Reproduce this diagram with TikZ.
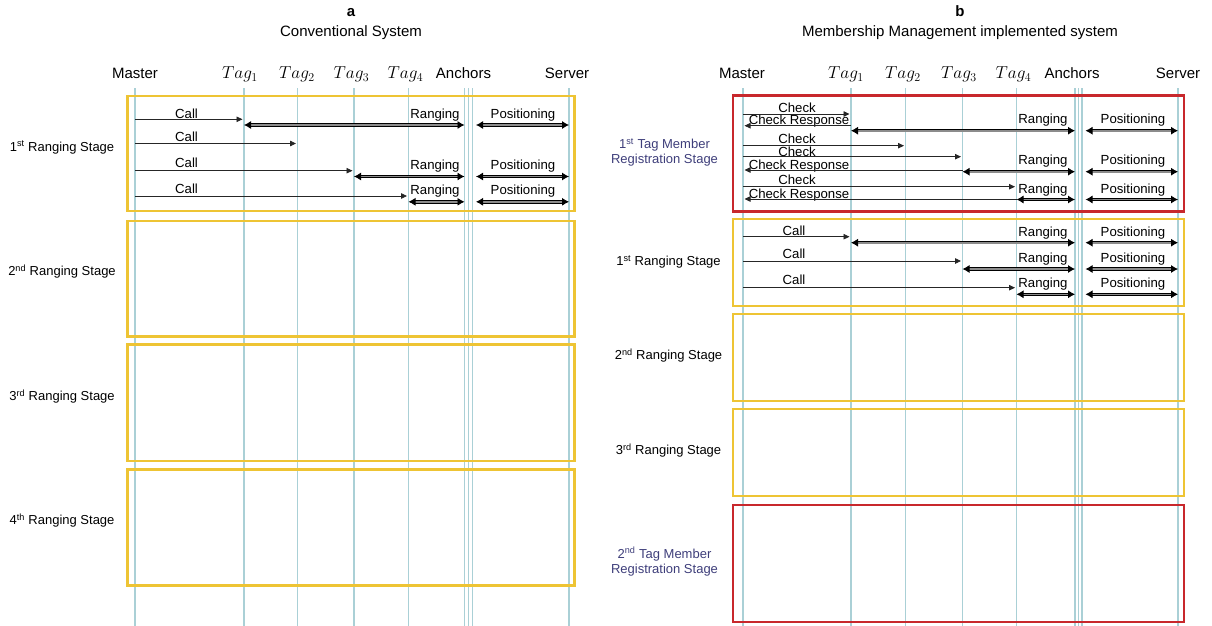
\documentclass[tikz,border=0pt]{standalone}
\usepackage{fontspec}
\setmainfont{Liberation Sans}
\usetikzlibrary{arrows.meta}
\definecolor{yboxc}{RGB}{238,196,52}
\definecolor{rboxc}{RGB}{200,40,44}
\definecolor{lifec}{RGB}{170,208,214}
\definecolor{stgblue}{RGB}{62,62,122}
\begin{document}
\begin{tikzpicture}[x=1pt,y=-1pt,
  life/.style={draw=lifec, line width=1.1pt},
  yb/.style={draw=yboxc, line width=2.6pt},
  rb/.style={draw=rboxc, line width=2.2pt},
  hdr/.style={font=\fontsize{15}{18}\selectfont, anchor=base, inner sep=0pt},
  tag/.style={font=\fontsize{16.5}{18}\selectfont, anchor=base, inner sep=0pt},
  ttl/.style={font=\fontsize{15}{18}\selectfont, anchor=base, inner sep=0pt},
  lbl/.style={font=\fontsize{13.2}{15}\selectfont, anchor=base, inner sep=0pt},
  stg/.style={font=\fontsize{13}{15}\selectfont, anchor=base, inner sep=0pt, align=center},
  msg/.style={draw=black!85, line width=0.8pt, -{Triangle[length=6pt,width=5.5pt]}, shorten >=1.5pt},
  dbl/.style={draw=black, line width=0.9pt, double=black!45, double distance=1.6pt,
    {Latex[length=7pt,width=8pt]}-{Latex[length=7pt,width=8pt]}},
]
\useasboundingbox (0,0) rectangle (1212,626);

% ---------------- titles ----------------
\node[ttl, font=\fontsize{15}{18}\selectfont\bfseries] (tA) at (351,17) {a};
\node[ttl] (tA2) at (351,36.5) {Conventional System};
\node[ttl, font=\fontsize{15}{18}\selectfont\bfseries] (tB) at (960,17) {b};
\node[ttl] (tB2) at (960,36.5) {Membership Management implemented system};

% ---------------- headers ----------------
\node[hdr] (hMA) at (135,78.5) {Master};
\node[tag] (hT1A) at (240,78.5) {$Tag_1$};
\node[tag] (hT2A) at (297,78.5) {$Tag_2$};
\node[tag] (hT3A) at (351.5,78.5) {$Tag_3$};
\node[tag] (hT4A) at (405.5,78.5) {$Tag_4$};
\node[hdr] (hAnA) at (463.5,78.5) {Anchors};
\node[hdr] (hSA) at (567,78.5) {Server};

\node[hdr] (hMB) at (742,78.5) {Master};
\node[tag] (hT1B) at (846,78.5) {$Tag_1$};
\node[tag] (hT2B) at (903,78.5) {$Tag_2$};
\node[tag] (hT3B) at (959,78.5) {$Tag_3$};
\node[tag] (hT4B) at (1013.5,78.5) {$Tag_4$};
\node[hdr] (hAnB) at (1072,78.5) {Anchors};
\node[hdr] (hSB) at (1178,78.5) {Server};

% ---------------- lifelines ----------------
\foreach \n/\x in {mA/135, t1A/244, t2A/297.5, t3A/354, t4A/408.5, anA/464.5, anAb/468.2, anAc/472.5, sA/569,
                   mB/743, t1B/851, t2B/905.5, t3B/962.5, t4B/1016.5, anB/1075, anBb/1078.5, anBc/1082, sB/1178}{
  \coordinate (\n) at (\x,88);
  \coordinate (\n e) at (\x,626);
  \draw[life] (\n) -- (\n e);
}

% ---------------- stage boxes ----------------
\draw[yb] (127.5,96) rectangle (574.5,211);
\draw[yb] (127.5,221) rectangle (574.5,336.5);
\draw[yb] (127.5,344.5) rectangle (574.5,461);
\draw[yb] (127.5,469.5) rectangle (574.5,585.5);

\draw[rb] (733,95.5) rectangle (1184,211.5);
\draw[yb] (733,219) rectangle (1184,306);
\draw[yb] (733,314) rectangle (1184,401);
\draw[yb] (733,409) rectangle (1184,496);
\draw[rb] (733,505) rectangle (1184,622);

% ---------------- stage labels ----------------
\node[stg] (sA1) at (62,151) {1\textsuperscript{st} Ranging Stage};
\node[stg] (sA2) at (62,275.5) {2\textsuperscript{nd} Ranging Stage};
\node[stg] (sA3) at (62,400.5) {3\textsuperscript{rd} Ranging Stage};
\node[stg] (sA4) at (62,524.5) {4\textsuperscript{th} Ranging Stage};

\node[stg, text=stgblue] (sB1) at (664.5,163.5) {1\textsuperscript{st} Tag Member\\Registration Stage};
\node[stg] (sB2) at (668.5,265.5) {1\textsuperscript{st} Ranging Stage};
\node[stg] (sB3) at (668.5,359.5) {2\textsuperscript{nd} Ranging Stage};
\node[stg] (sB4) at (668.5,454.5) {3\textsuperscript{rd} Ranging Stage};
\node[stg, text=stgblue] (sB5) at (664.5,573) {2\textsuperscript{nd} Tag Member\\Registration Stage};

% ================= panel a messages =================
\coordinate (ra1) at (0,119.3);  \coordinate (da1) at (0,125);
\coordinate (ra2) at (0,143.5);
\coordinate (ra3) at (0,170.7);  \coordinate (da3) at (0,176.5);
\coordinate (ra4) at (0,196);    \coordinate (da4) at (0,201.8);

\node[lbl] (ca1) at (186.5,118) {Call};
\node[lbl] (ca2) at (186.5,141.5) {Call};
\node[lbl] (ca3) at (186.5,167.5) {Call};
\node[lbl] (ca4) at (186.5,193.5) {Call};
\draw[msg] (mA |- ra1) -- (t1A |- ra1);
\draw[msg] (mA |- ra2) -- (t2A |- ra2);
\draw[msg] (mA |- ra3) -- (t3A |- ra3);
\draw[msg] (mA |- ra4) -- (t4A |- ra4);

\node[lbl] (rga1) at (435,118.5) {Ranging};
\node[lbl] (rga3) at (435,169.5) {Ranging};
\node[lbl] (rga4) at (435,194.5) {Ranging};
\node[lbl] (pa1) at (523,118.5) {Positioning};
\node[lbl] (pa3) at (523,169.5) {Positioning};
\node[lbl] (pa4) at (523,194.5) {Positioning};

\draw[dbl] (t1A |- da1) -- (anA |- da1);
\draw[dbl] (t3A |- da3) -- (anA |- da3);
\draw[dbl] (t4A |- da4) -- (anA |- da4);
\draw[dbl, shorten <=3.5pt] (anAc |- da1) -- (sA |- da1);
\draw[dbl, shorten <=3.5pt] (anAc |- da3) -- (sA |- da3);
\draw[dbl, shorten <=3.5pt] (anAc |- da4) -- (sA |- da4);

% ================= panel b: registration stage =================
\coordinate (rb1) at (0,114);   \coordinate (rr1) at (0,125.7); \coordinate (db1) at (0,130.7);
\coordinate (rb2) at (0,145.7);
\coordinate (rb3) at (0,156.7); \coordinate (rr3) at (0,170);   \coordinate (db3) at (0,171.7);
\coordinate (rb4) at (0,186.7); \coordinate (rr4) at (0,199);   \coordinate (db4) at (0,199.5);

\node[lbl] (ck1) at (797,112) {Check};
\node[lbl] (cr1) at (799,124.5) {Check Response};
\node[lbl] (ck2) at (797,143) {Check};
\node[lbl] (ck3) at (797,156) {Check};
\node[lbl] (cr3) at (799,169.3) {Check Response};
\node[lbl] (ck4) at (797,184.5) {Check};
\node[lbl] (cr4) at (799,198.5) {Check Response};

\draw[msg] (mB |- rb1) -- (t1B |- rb1);
\draw[msg] (t1B |- rr1) -- (mB |- rr1);
\draw[msg] (mB |- rb2) -- (t2B |- rb2);
\draw[msg] (mB |- rb3) -- (t3B |- rb3);
\draw[msg] (t3B |- rr3) -- (mB |- rr3);
\draw[msg] (mB |- rb4) -- (t4B |- rb4);
\draw[msg] (t4B |- rr4) -- (mB |- rr4);

\node[lbl] (rgb1) at (1043,123) {Ranging};
\node[lbl] (rgb3) at (1043,164.5) {Ranging};
\node[lbl] (rgb4) at (1043,193.5) {Ranging};
\node[lbl] (pb1) at (1133,123) {Positioning};
\node[lbl] (pb3) at (1133,164.5) {Positioning};
\node[lbl] (pb4) at (1133,193.5) {Positioning};

\draw[dbl] (t1B |- db1) -- (anB |- db1);
\draw[dbl] (t3B |- db3) -- (anB |- db3);
\draw[dbl] (t4B |- db4) -- (anB |- db4);
\draw[dbl, shorten <=3.5pt] (anBc |- db1) -- (sB |- db1);
\draw[dbl, shorten <=3.5pt] (anBc |- db3) -- (sB |- db3);
\draw[dbl, shorten <=3.5pt] (anBc |- db4) -- (sB |- db4);

% ================= panel b: 1st ranging stage =================
\coordinate (rc1) at (0,236.7); \coordinate (dc1) at (0,242.7);
\coordinate (rc2) at (0,261);   \coordinate (dc2) at (0,269);
\coordinate (rc3) at (0,287.7); \coordinate (dc3) at (0,294.3);

\node[lbl] (cb1) at (794,235.3) {Call};
\node[lbl] (cb2) at (794,258.6) {Call};
\node[lbl] (cb3) at (794,284.6) {Call};
\draw[msg] (mB |- rc1) -- (t1B |- rc1);
\draw[msg] (mB |- rc2) -- (t3B |- rc2);
\draw[msg] (mB |- rc3) -- (t4B |- rc3);

\node[lbl] (rgc1) at (1043,236.3) {Ranging};
\node[lbl] (rgc2) at (1043,262.9) {Ranging};
\node[lbl] (rgc3) at (1043,287.3) {Ranging};
\node[lbl] (pc1) at (1133,236.3) {Positioning};
\node[lbl] (pc2) at (1133,262.9) {Positioning};
\node[lbl] (pc3) at (1133,287.3) {Positioning};

\draw[dbl] (t1B |- dc1) -- (anB |- dc1);
\draw[dbl] (t3B |- dc2) -- (anB |- dc2);
\draw[dbl] (t4B |- dc3) -- (anB |- dc3);
\draw[dbl, shorten <=3.5pt] (anBc |- dc1) -- (sB |- dc1);
\draw[dbl, shorten <=3.5pt] (anBc |- dc2) -- (sB |- dc2);
\draw[dbl, shorten <=3.5pt] (anBc |- dc3) -- (sB |- dc3);
\end{tikzpicture}
\end{document}
